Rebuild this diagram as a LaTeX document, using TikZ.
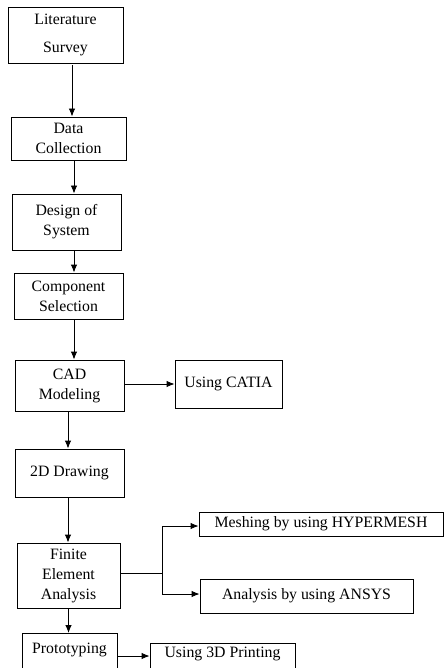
\documentclass[tikz,border=0pt]{standalone}
\usepackage{fontspec}
\setmainfont{Liberation Serif}
\usetikzlibrary{arrows.meta}

\tikzset{
  blk/.style={draw=black, line width=0.9pt, align=center, inner sep=0pt,
    font=\fontsize{15.8}{20}\selectfont},
  arr/.style={-{Latex[length=8pt,width=6.5pt]}, line width=0.9pt}
}

\begin{document}
\begin{tikzpicture}[x=1pt,y=-1pt]
\useasboundingbox (0,0) rectangle (445,668);
\clip (0,0) rectangle (445,668);

% main column
\node[blk, minimum width=115, minimum height=56, font=\fontsize{15.8}{28}\selectfont] (lit) at (65.5,35) {Literature\\Survey};
\node[blk, minimum width=115, minimum height=43] (data) at (68.5,138.5) {Data\\Collection};
\node[blk, minimum width=109, minimum height=56] (design) at (66.5,222) {Design of\\System};
\node[blk, minimum width=109, minimum height=46] (comp) at (68.5,296) {Component\\Selection};
\node[blk, minimum width=109, minimum height=51] (cad) at (69.5,385.5) {CAD\\Modeling};
\node[blk, minimum width=109, minimum height=48] (draw2d) at (69.5,473) {2D Drawing};
\node[blk, minimum width=103, minimum height=65] (fea) at (68.5,575.5) {Finite\\Element\\Analysis};
\node[blk, anchor=north, minimum width=95, inner ysep=10pt, text depth=45pt] (proto) at (69.5,633) {Prototyping};

% side boxes
\node[blk, minimum width=107, minimum height=48] (catia) at (228.5,384) {Using CATIA};
\node[blk, minimum width=244, minimum height=24] (mesh) at (321,524) {Meshing by using HYPERMESH};
\node[blk, minimum width=213, minimum height=34] (ansys) at (306.5,596) {Analysis by using ANSYS};
\node[blk, anchor=north, minimum width=145, inner ysep=4pt, text depth=45pt] (print) at (222.5,643) {Using 3D Printing};

% down arrows
\draw[arr] ([xshift=6.5pt,yshift=-2pt]lit.south) -- ([xshift=6.5pt]lit.south |- data.north);
\draw[arr] ([xshift=5.5pt]data.south) -- ([xshift=5.5pt]data.south |- design.north);
\draw[arr] ([xshift=7.5pt]design.south) -- ([xshift=7.5pt]design.south |- comp.north);
\draw[arr] ([xshift=5.5pt]comp.south) -- ([xshift=5.5pt]comp.south |- cad.north);
\draw[arr] ([xshift=-1.5pt]cad.south) -- ([xshift=-1.5pt]cad.south |- draw2d.north);
\draw[arr] ([xshift=-1.5pt]draw2d.south) -- ([xshift=-1.5pt]draw2d.south |- fea.north);
\draw[arr] (fea.south) -- (fea.south |- proto.north);

% side arrows
\draw[arr] (cad.east |- catia.west) -- (catia.west);
\coordinate (split) at (162,573);
\draw[line width=0.9pt] (fea.east |- split) -- (split);
\draw[arr] (split) |- ([yshift=-2pt]mesh.west);
\draw[arr] (split) |- ([yshift=2pt]ansys.west);
\coordinate (pp) at (117,656);
\draw[arr] (proto.east |- pp) -- (print.west |- pp);
\end{tikzpicture}
\end{document}
